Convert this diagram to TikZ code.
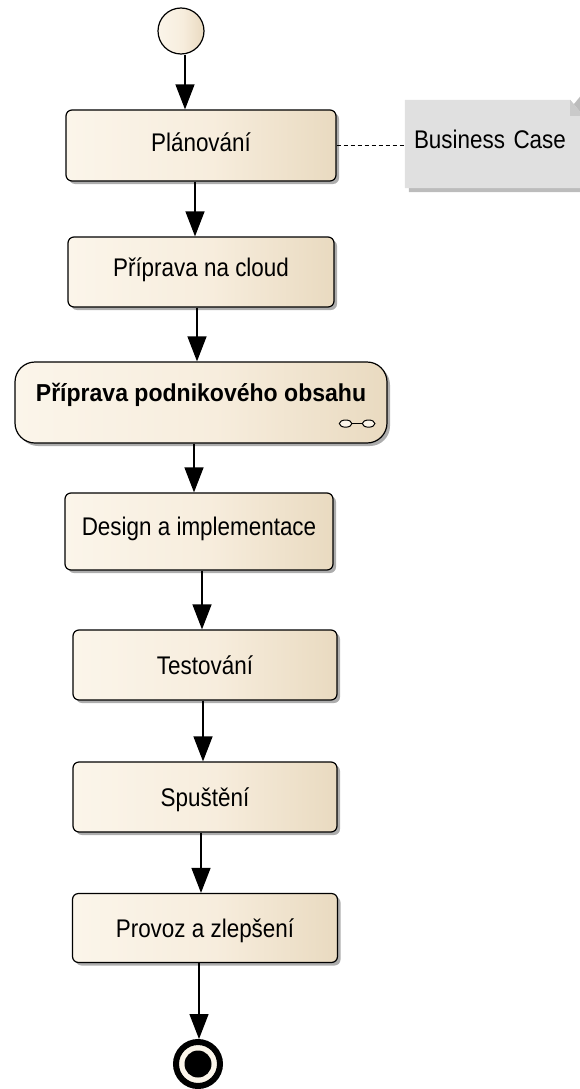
\documentclass[tikz,border=0pt]{standalone}
\usepackage{fontspec}
\setmainfont{Liberation Sans}[FakeStretch=0.88]
\newfontfamily\wideface{Liberation Sans}[FakeStretch=0.94]
\usetikzlibrary{arrows.meta,shadows,calc}

\definecolor{actL}{RGB}{251,245,234}
\definecolor{actM}{RGB}{247,237,221}
\definecolor{actR}{RGB}{233,218,192}
\definecolor{noteFill}{RGB}{224,224,224}
\definecolor{noteFold}{RGB}{202,202,202}
\definecolor{noteShadow}{RGB}{188,188,188}

% cream-to-tan fill of the activity shapes
\pgfdeclarehorizontalshading{actshade}{100bp}{color(0bp)=(actL); color(25bp)=(actL); color(52bp)=(actM); color(75bp)=(actR); color(100bp)=(actR)}

\pgfdeclarelayer{background}
\pgfsetlayers{background,main}

\tikzset{
  act/.style={draw, line width=1.2pt, rounded corners=6pt, shade, shading=actshade,
    drop shadow={shadow xshift=3pt, shadow yshift=-3pt, fill=black!32, opacity=1},
    inner sep=0pt, text height=18pt, text depth=0pt,
    font=\fontsize{25.5}{30}\selectfont},
  flow/.style={line width=1.3pt, -{Triangle[length=25pt,width=19pt]}},
  link/.style={line width=0.8pt, dash pattern=on 4pt off 3pt},
}

\begin{document}
\begin{tikzpicture}[x=1pt, y=-1pt]
\useasboundingbox (0,0) rectangle (580,1089);

% initial node
\node[circle, draw, line width=1.2pt, shade, shading=actshade, minimum size=46pt, inner sep=0pt] (start) at (181,31) {};

% activities
\node[act, minimum width=270pt, minimum height=71pt, text depth=5.6pt] (p1) at (201,145.5) {Plánování};
\node[act, minimum width=266pt, minimum height=70pt, text depth=10pt] (p2) at (201,272) {Příprava na cloud};
\node[act, rounded corners=20pt, minimum width=372pt, minimum height=81pt, text height=17pt, text depth=18.6pt,
      font=\fontsize{24.5}{29}\wideface\bfseries] (p3) at (201,402.5) {Příprava podnikového obsahu};
\node[act, minimum width=268pt, minimum height=77pt, text depth=11pt] (p4) at (199,531.5) {Design a implementace};
\node[act, minimum width=264pt, minimum height=70pt] (p5) at (205,665) {Testování};
\node[act, minimum width=264pt, minimum height=70pt] (p6) at (205,797) {Spuštění};
\node[act, minimum width=265pt, minimum height=69pt] (p7) at (205,928) {Provoz a zlepšení};

% call-behaviour mark of the sub-activity
\begin{scope}[shift={(p3.south east)}]
  \draw[line width=1pt] (-36,-20) -- (-25,-20);
  \draw[line width=1pt, fill=actL] (-42,-20) ellipse [x radius=6.3pt, y radius=3.6pt];
  \draw[line width=1pt, fill=actL] (-19,-20) ellipse [x radius=6.3pt, y radius=3.6pt];
\end{scope}

% final node
\node[circle, draw, line width=6pt, fill=actL, minimum size=44pt, inner sep=0pt] (end) at (198,1064) {};
\fill (end.center) circle (13.5);

% note
\node[inner sep=0pt, minimum width=178pt, minimum height=88pt, text width=160pt, align=left,
      text height=18pt, text depth=9.5pt, font=\fontsize{25.5}{30}\selectfont] (note) at (494,144) {Business Case};
\begin{pgfonlayer}{background}
  \fill[noteShadow] ([shift={(4,4)}]note.south west) -- ([shift={(4,4)}]note.north west)
    -- ([shift={(-9,4)}]note.north east) -- ([shift={(4,-12)}]note.north east)
    -- ([shift={(4,4)}]note.south east) -- cycle;
  \fill[noteFill] (note.south west) -- (note.north west) -- ([xshift=-13pt]note.north east)
    -- ([yshift=-16pt]note.north east) -- (note.south east) -- cycle;
  \fill[noteFold] ([xshift=-13pt]note.north east) -- ([xshift=-13pt,yshift=-16pt]note.north east)
    -- ([yshift=-16pt]note.north east) -- cycle;
\end{pgfonlayer}

% control flow
\coordinate (xa) at (185,0);
\coordinate (xb) at (195,0);
\coordinate (xc) at (197,0);
\coordinate (xd) at (194,0);
\coordinate (xe) at (202,0);
\coordinate (xf) at (203,0);
\coordinate (xg) at (201,0);
\coordinate (xh) at (199,0);
\draw[flow] (start.south -| xa) -- (p1.north -| xa);
\draw[flow] (p1.south -| xb) -- (p2.north -| xb);
\draw[flow] (p2.south -| xc) -- (p3.north -| xc);
\draw[flow] (p3.south -| xd) -- (p4.north -| xd);
\draw[flow] (p4.south -| xe) -- (p5.north -| xe);
\draw[flow] (p5.south -| xf) -- (p6.north -| xf);
\draw[flow] (p6.south -| xg) -- (p7.north -| xg);
\draw[flow] (p7.south -| xh) -- (end.north -| xh);

% note attachment
\draw[link] (p1.east) -- (p1.east -| note.west);
\end{tikzpicture}
\end{document}
